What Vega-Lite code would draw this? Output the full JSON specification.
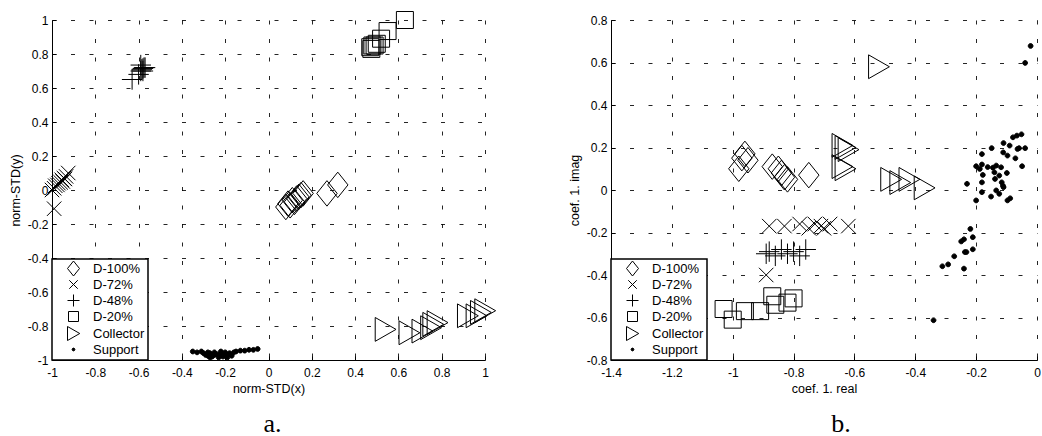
{
  "$schema": "https://vega.github.io/schema/vega-lite/v6.json",
  "background": "white",
  "padding": {"left": 9, "top": 9, "right": 0, "bottom": 0},
  "spacing": 126,
  "bounds": "flush",
  "config": {
    "font": "Liberation Sans",
    "locale": {"number": {"decimal": ".", "thousands": ",", "grouping": [3], "currency": ["$", ""], "minus": "-"}},
    "view": {"stroke": null},
    "axis": {
      "domainColor": "black", "domainWidth": 1,
      "tickColor": "black", "tickSize": -4, "tickWidth": 1,
      "labelPadding": 11, "labelColor": "black", "labelFontSize": 12, "labelFont": "Liberation Sans",
      "titleFont": "Liberation Sans", "titleFontSize": 12.5, "titleFontWeight": "normal", "titleColor": "black", "titlePadding": 4,
      "gridColor": "black", "gridDash": [4, 14.5], "gridOpacity": 0.85, "gridWidth": 1,
      "labelFlush": false, "labelOverlap": false, "format": "~g"
    },
    "axisY": {"labelPadding": 8, "titlePadding": 5},
    "legend": {
      "orient": "bottom-left", "offset": 0, "padding": 3,
      "strokeColor": "black", "strokeWidth": 1.5, "fillColor": "white",
      "labelFont": "Liberation Sans", "labelFontSize": 13, "labelColor": "black",
      "symbolSize": 100, "symbolStrokeColor": "black", "symbolStrokeWidth": 1,
      "rowPadding": 0, "labelOffset": 13, "symbolOffset": 12
    },
    "title": {"font": "Liberation Serif", "fontSize": 26, "fontWeight": "normal", "color": "black"}
  },
  "resolve": {"scale": {"shape": "independent", "fill": "independent", "stroke": "independent"}},
  "datasets": {
    "a": [
      {"x": 0.08, "y": -0.10, "s": "D-100%"},
      {"x": 0.09, "y": -0.08, "s": "D-100%"},
      {"x": 0.10, "y": -0.09, "s": "D-100%"},
      {"x": 0.11, "y": -0.06, "s": "D-100%"},
      {"x": 0.12, "y": -0.07, "s": "D-100%"},
      {"x": 0.13, "y": -0.05, "s": "D-100%"},
      {"x": 0.14, "y": -0.04, "s": "D-100%"},
      {"x": 0.15, "y": -0.03, "s": "D-100%"},
      {"x": 0.16, "y": -0.02, "s": "D-100%"},
      {"x": 0.27, "y": -0.02, "s": "D-100%"},
      {"x": 0.32, "y": 0.03, "s": "D-100%"},
      {"x": -1.0, "y": 0.0, "s": "D-72%"},
      {"x": -0.99, "y": 0.01, "s": "D-72%"},
      {"x": -0.985, "y": 0.025, "s": "D-72%"},
      {"x": -0.975, "y": 0.03, "s": "D-72%"},
      {"x": -0.97, "y": 0.04, "s": "D-72%"},
      {"x": -0.96, "y": 0.045, "s": "D-72%"},
      {"x": -0.955, "y": 0.06, "s": "D-72%"},
      {"x": -0.95, "y": 0.05, "s": "D-72%"},
      {"x": -0.945, "y": 0.07, "s": "D-72%"},
      {"x": -0.94, "y": 0.065, "s": "D-72%"},
      {"x": -0.935, "y": 0.08, "s": "D-72%"},
      {"x": -0.925, "y": 0.1, "s": "D-72%"},
      {"x": -0.99, "y": -0.11, "s": "D-72%"},
      {"x": -0.63, "y": 0.65, "s": "D-48%"},
      {"x": -0.60, "y": 0.68, "s": "D-48%"},
      {"x": -0.59, "y": 0.70, "s": "D-48%"},
      {"x": -0.585, "y": 0.71, "s": "D-48%"},
      {"x": -0.58, "y": 0.715, "s": "D-48%"},
      {"x": -0.575, "y": 0.72, "s": "D-48%"},
      {"x": -0.57, "y": 0.72, "s": "D-48%"},
      {"x": -0.58, "y": 0.70, "s": "D-48%"},
      {"x": -0.59, "y": 0.735, "s": "D-48%"},
      {"x": 0.63, "y": 1.0, "s": "D-20%"},
      {"x": 0.55, "y": 0.935, "s": "D-20%"},
      {"x": 0.52, "y": 0.89, "s": "D-20%"},
      {"x": 0.50, "y": 0.86, "s": "D-20%"},
      {"x": 0.48, "y": 0.85, "s": "D-20%"},
      {"x": 0.47, "y": 0.84, "s": "D-20%"},
      {"x": 0.475, "y": 0.83, "s": "D-20%"},
      {"x": 0.49, "y": 0.85, "s": "D-20%"},
      {"x": 0.54, "y": -0.82, "s": "Collector"},
      {"x": 0.65, "y": -0.84, "s": "Collector"},
      {"x": 0.71, "y": -0.83, "s": "Collector"},
      {"x": 0.75, "y": -0.81, "s": "Collector"},
      {"x": 0.76, "y": -0.79, "s": "Collector"},
      {"x": 0.78, "y": -0.78, "s": "Collector"},
      {"x": 0.92, "y": -0.74, "s": "Collector"},
      {"x": 0.96, "y": -0.74, "s": "Collector"},
      {"x": 0.98, "y": -0.72, "s": "Collector"},
      {"x": 1.0, "y": -0.71, "s": "Collector"},
      {"x": -0.35, "y": -0.95, "s": "Support"},
      {"x": -0.33, "y": -0.955, "s": "Support"},
      {"x": -0.31, "y": -0.95, "s": "Support"},
      {"x": -0.30, "y": -0.96, "s": "Support"},
      {"x": -0.29, "y": -0.97, "s": "Support"},
      {"x": -0.28, "y": -0.975, "s": "Support"},
      {"x": -0.27, "y": -0.96, "s": "Support"},
      {"x": -0.26, "y": -0.98, "s": "Support"},
      {"x": -0.25, "y": -0.97, "s": "Support"},
      {"x": -0.24, "y": -0.965, "s": "Support"},
      {"x": -0.23, "y": -0.975, "s": "Support"},
      {"x": -0.22, "y": -0.96, "s": "Support"},
      {"x": -0.21, "y": -0.98, "s": "Support"},
      {"x": -0.20, "y": -0.965, "s": "Support"},
      {"x": -0.19, "y": -0.97, "s": "Support"},
      {"x": -0.18, "y": -0.96, "s": "Support"},
      {"x": -0.17, "y": -0.975, "s": "Support"},
      {"x": -0.16, "y": -0.955, "s": "Support"},
      {"x": -0.15, "y": -0.95, "s": "Support"},
      {"x": -0.13, "y": -0.945, "s": "Support"},
      {"x": -0.11, "y": -0.945, "s": "Support"},
      {"x": -0.09, "y": -0.94, "s": "Support"},
      {"x": -0.07, "y": -0.94, "s": "Support"},
      {"x": -0.05, "y": -0.935, "s": "Support"},
      {"x": -0.28, "y": -0.955, "s": "Support"},
      {"x": -0.25, "y": -0.955, "s": "Support"},
      {"x": -0.22, "y": -0.95, "s": "Support"},
      {"x": -0.20, "y": -0.955, "s": "Support"},
      {"x": -0.27, "y": -0.985, "s": "Support"},
      {"x": -0.23, "y": -0.985, "s": "Support"},
      {"x": -0.19, "y": -0.985, "s": "Support"}
    ],
    "b": [
      {"x": -0.98, "y": 0.10, "s": "D-100%"},
      {"x": -0.97, "y": 0.15, "s": "D-100%"},
      {"x": -0.96, "y": 0.17, "s": "D-100%"},
      {"x": -0.95, "y": 0.14, "s": "D-100%"},
      {"x": -0.87, "y": 0.11, "s": "D-100%"},
      {"x": -0.85, "y": 0.10, "s": "D-100%"},
      {"x": -0.84, "y": 0.08, "s": "D-100%"},
      {"x": -0.83, "y": 0.06, "s": "D-100%"},
      {"x": -0.82, "y": 0.05, "s": "D-100%"},
      {"x": -0.75, "y": 0.07, "s": "D-100%"},
      {"x": -0.88, "y": -0.17, "s": "D-72%"},
      {"x": -0.83, "y": -0.17, "s": "D-72%"},
      {"x": -0.78, "y": -0.16, "s": "D-72%"},
      {"x": -0.75, "y": -0.18, "s": "D-72%"},
      {"x": -0.73, "y": -0.16, "s": "D-72%"},
      {"x": -0.71, "y": -0.17, "s": "D-72%"},
      {"x": -0.70, "y": -0.18, "s": "D-72%"},
      {"x": -0.68, "y": -0.16, "s": "D-72%"},
      {"x": -0.62, "y": -0.17, "s": "D-72%"},
      {"x": -0.89, "y": -0.40, "s": "D-72%"},
      {"x": -0.89, "y": -0.30, "s": "D-48%"},
      {"x": -0.88, "y": -0.29, "s": "D-48%"},
      {"x": -0.86, "y": -0.31, "s": "D-48%"},
      {"x": -0.84, "y": -0.28, "s": "D-48%"},
      {"x": -0.82, "y": -0.30, "s": "D-48%"},
      {"x": -0.80, "y": -0.29, "s": "D-48%"},
      {"x": -0.78, "y": -0.31, "s": "D-48%"},
      {"x": -0.76, "y": -0.28, "s": "D-48%"},
      {"x": -1.03, "y": -0.56, "s": "D-20%"},
      {"x": -1.0, "y": -0.61, "s": "D-20%"},
      {"x": -0.96, "y": -0.57, "s": "D-20%"},
      {"x": -0.91, "y": -0.57, "s": "D-20%"},
      {"x": -0.86, "y": -0.54, "s": "D-20%"},
      {"x": -0.82, "y": -0.53, "s": "D-20%"},
      {"x": -0.80, "y": -0.51, "s": "D-20%"},
      {"x": -0.87, "y": -0.50, "s": "D-20%"},
      {"x": -0.52, "y": 0.58, "s": "Collector"},
      {"x": -0.64, "y": 0.21, "s": "Collector"},
      {"x": -0.63, "y": 0.20, "s": "Collector"},
      {"x": -0.62, "y": 0.19, "s": "Collector"},
      {"x": -0.64, "y": 0.11, "s": "Collector"},
      {"x": -0.63, "y": 0.10, "s": "Collector"},
      {"x": -0.48, "y": 0.05, "s": "Collector"},
      {"x": -0.45, "y": 0.035, "s": "Collector"},
      {"x": -0.42, "y": 0.05, "s": "Collector"},
      {"x": -0.37, "y": 0.01, "s": "Collector"},
      {"x": -0.021, "y": 0.678, "s": "Support"},
      {"x": -0.039, "y": 0.598, "s": "Support"},
      {"x": -0.23, "y": 0.029, "s": "Support"},
      {"x": -0.2, "y": -0.049, "s": "Support"},
      {"x": -0.181, "y": 0.169, "s": "Support"},
      {"x": -0.149, "y": 0.197, "s": "Support"},
      {"x": -0.11, "y": 0.221, "s": "Support"},
      {"x": -0.09, "y": 0.209, "s": "Support"},
      {"x": -0.066, "y": 0.256, "s": "Support"},
      {"x": -0.051, "y": 0.262, "s": "Support"},
      {"x": -0.039, "y": 0.197, "s": "Support"},
      {"x": -0.059, "y": 0.197, "s": "Support"},
      {"x": -0.071, "y": 0.149, "s": "Support"},
      {"x": -0.049, "y": 0.112, "s": "Support"},
      {"x": -0.111, "y": 0.177, "s": "Support"},
      {"x": -0.097, "y": 0.162, "s": "Support"},
      {"x": -0.2, "y": 0.112, "s": "Support"},
      {"x": -0.188, "y": 0.099, "s": "Support"},
      {"x": -0.181, "y": 0.12, "s": "Support"},
      {"x": -0.178, "y": 0.071, "s": "Support"},
      {"x": -0.162, "y": 0.108, "s": "Support"},
      {"x": -0.145, "y": 0.105, "s": "Support"},
      {"x": -0.134, "y": 0.115, "s": "Support"},
      {"x": -0.118, "y": 0.107, "s": "Support"},
      {"x": -0.14, "y": 0.083, "s": "Support"},
      {"x": -0.124, "y": 0.068, "s": "Support"},
      {"x": -0.138, "y": 0.052, "s": "Support"},
      {"x": -0.099, "y": 0.08, "s": "Support"},
      {"x": -0.116, "y": 0.036, "s": "Support"},
      {"x": -0.11, "y": 0.013, "s": "Support"},
      {"x": -0.181, "y": 0.036, "s": "Support"},
      {"x": -0.181, "y": -0.01, "s": "Support"},
      {"x": -0.151, "y": -0.031, "s": "Support"},
      {"x": -0.134, "y": -0.002, "s": "Support"},
      {"x": -0.124, "y": -0.018, "s": "Support"},
      {"x": -0.097, "y": -0.049, "s": "Support"},
      {"x": -0.088, "y": -0.039, "s": "Support"},
      {"x": -0.112, "y": 0.02, "s": "Support"},
      {"x": -0.064, "y": 0.193, "s": "Support"},
      {"x": -0.079, "y": 0.248, "s": "Support"},
      {"x": -0.219, "y": -0.183, "s": "Support"},
      {"x": -0.211, "y": -0.222, "s": "Support"},
      {"x": -0.24, "y": -0.232, "s": "Support"},
      {"x": -0.249, "y": -0.242, "s": "Support"},
      {"x": -0.232, "y": -0.292, "s": "Support"},
      {"x": -0.237, "y": -0.292, "s": "Support"},
      {"x": -0.211, "y": -0.279, "s": "Support"},
      {"x": -0.272, "y": -0.312, "s": "Support"},
      {"x": -0.292, "y": -0.35, "s": "Support"},
      {"x": -0.311, "y": -0.359, "s": "Support"},
      {"x": -0.24, "y": -0.37, "s": "Support"},
      {"x": -0.34, "y": -0.613, "s": "Support"}
    ]
  },
  "hconcat": [
    {
      "width": 433,
      "height": 340,
      "title": {"text": "a.", "orient": "bottom", "anchor": "middle", "dx": 4, "offset": 16},
      "data": {"name": "a"},
      "mark": {"type": "point", "filled": true, "strokeWidth": 1, "opacity": 1},
      "encoding": {
        "x": {"field": "x", "type": "quantitative", "scale": {"domain": [-1, 1], "nice": false, "zero": false},
              "axis": {"title": "norm-STD(x)", "values": [-1, -0.8, -0.6, -0.4, -0.2, 0, 0.2, 0.4, 0.6, 0.8, 1], "grid": true}},
        "y": {"field": "y", "type": "quantitative", "scale": {"domain": [-1, 1], "nice": false, "zero": false},
              "axis": {"title": "norm-STD(y)", "values": [-1, -0.8, -0.6, -0.4, -0.2, 0, 0.2, 0.4, 0.6, 0.8, 1], "grid": true}},
        "shape": {"field": "s", "type": "nominal",
                  "scale": {"domain": ["D-100%", "D-72%", "D-48%", "D-20%", "Collector", "Support"],
                            "range": ["M0,-1.5L1.2,0L0,1.5L-1.2,0Z", "M-0.85,-0.85L0.85,0.85M-0.85,0.85L0.85,-0.85", "M-1.2,0L1.2,0M0,-1.2L0,1.2", "M-1,-1L1,-1L1,1L-1,1Z", "M-1.2,-1.4L1.25,0L-1.2,1.4Z", "M-0.28,0A0.28,0.28 0 1,0 0.28,0A0.28,0.28 0 1,0 -0.28,0Z"]},
                  "legend": {"title": null}},
        "fill": {"field": "s", "type": "nominal",
                 "scale": {"domain": ["D-100%", "D-72%", "D-48%", "D-20%", "Collector", "Support"],
                           "range": ["transparent", "transparent", "transparent", "transparent", "transparent", "black"]},
                 "legend": {"title": null}},
        "stroke": {"field": "s", "type": "nominal",
                 "scale": {"domain": ["D-100%", "D-72%", "D-48%", "D-20%", "Collector", "Support"],
                           "range": ["black", "black", "black", "black", "black", "black"]},
                 "legend": {"title": null}},
        "size": {"value": 289}
      }
    },
    {
      "width": 426,
      "height": 340,
      "title": {"text": "b.", "orient": "bottom", "anchor": "middle", "dx": 17, "offset": 16},
      "data": {"name": "b"},
      "mark": {"type": "point", "filled": true, "strokeWidth": 1, "opacity": 1},
      "encoding": {
        "x": {"field": "x", "type": "quantitative", "scale": {"domain": [-1.4, 0], "nice": false, "zero": false},
              "axis": {"title": "coef. 1. real", "values": [-1.4, -1.2, -1, -0.8, -0.6, -0.4, -0.2, 0], "grid": true}},
        "y": {"field": "y", "type": "quantitative", "scale": {"domain": [-0.8, 0.8], "nice": false, "zero": false},
              "axis": {"title": "coef. 1. imag", "values": [-0.8, -0.6, -0.4, -0.2, 0, 0.2, 0.4, 0.6, 0.8], "grid": true}},
        "shape": {"field": "s", "type": "nominal",
                  "scale": {"domain": ["D-100%", "D-72%", "D-48%", "D-20%", "Collector", "Support"],
                            "range": ["M0,-1.5L1.2,0L0,1.5L-1.2,0Z", "M-0.85,-0.85L0.85,0.85M-0.85,0.85L0.85,-0.85", "M-1.2,0L1.2,0M0,-1.2L0,1.2", "M-1,-1L1,-1L1,1L-1,1Z", "M-1.2,-1.4L1.25,0L-1.2,1.4Z", "M-0.28,0A0.28,0.28 0 1,0 0.28,0A0.28,0.28 0 1,0 -0.28,0Z"]},
                  "legend": {"title": null}},
        "fill": {"field": "s", "type": "nominal",
                 "scale": {"domain": ["D-100%", "D-72%", "D-48%", "D-20%", "Collector", "Support"],
                           "range": ["transparent", "transparent", "transparent", "transparent", "transparent", "black"]},
                 "legend": {"title": null}},
        "stroke": {"field": "s", "type": "nominal",
                 "scale": {"domain": ["D-100%", "D-72%", "D-48%", "D-20%", "Collector", "Support"],
                           "range": ["black", "black", "black", "black", "black", "black"]},
                 "legend": {"title": null}},
        "size": {"value": 289}
      }
    }
  ]
}
